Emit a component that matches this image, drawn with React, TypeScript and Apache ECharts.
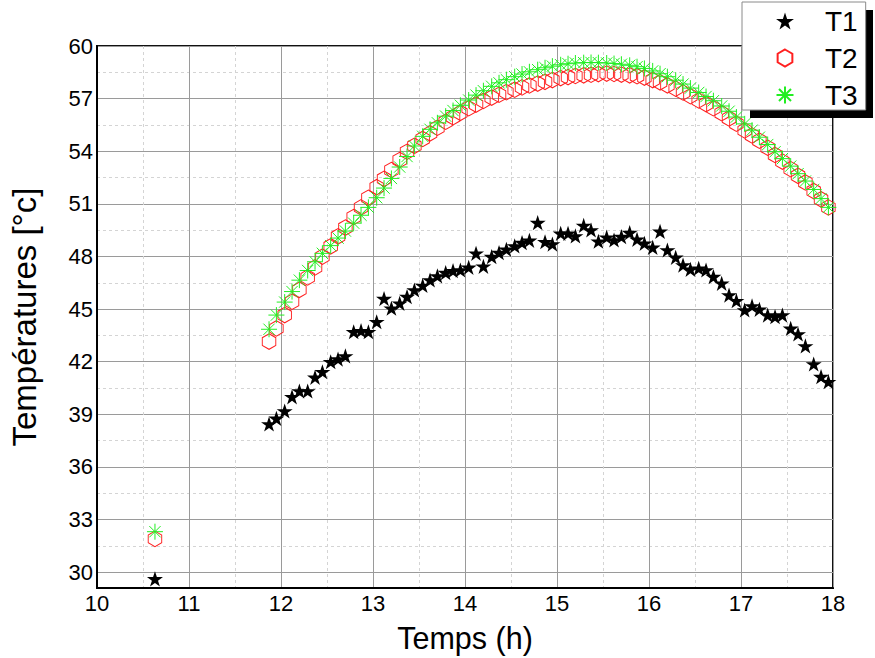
import React, { useEffect, useRef } from "react";
import * as echarts from "echarts";

// Time of day (h)
const times: number[] = [
  10.63,
  11.87, 11.95, 12.04, 12.12, 12.20, 12.29, 12.37, 12.45, 12.54, 12.62,
  12.70, 12.79, 12.87, 12.95, 13.04, 13.12, 13.20, 13.29, 13.37, 13.45,
  13.54, 13.62, 13.70, 13.79, 13.87, 13.95, 14.04, 14.12, 14.20, 14.29,
  14.37, 14.45, 14.54, 14.62, 14.70, 14.79, 14.87, 14.95, 15.04, 15.12,
  15.20, 15.29, 15.37, 15.45, 15.54, 15.62, 15.70, 15.79, 15.87, 15.95,
  16.04, 16.12, 16.20, 16.29, 16.37, 16.45, 16.54, 16.62, 16.70, 16.79,
  16.87, 16.95, 17.04, 17.12, 17.20, 17.29, 17.37, 17.45, 17.54, 17.62,
  17.70, 17.79, 17.87, 17.95, 18.04,
];

const t1: number[] = [
  29.62,
  38.45, 38.77, 39.19, 40.00, 40.33, 40.33, 41.11, 41.43, 42.00, 42.15,
  42.33, 43.71, 43.77, 43.71, 44.28, 45.60, 45.05, 45.33, 45.71, 46.09,
  46.35, 46.66, 46.89, 47.08, 47.19, 47.23, 47.38, 48.18, 47.44, 47.99,
  48.22, 48.41, 48.60, 48.79, 48.92, 49.93, 48.84, 48.71, 49.32, 49.32,
  49.17, 49.77, 49.51, 48.87, 49.10, 48.94, 49.13, 49.36, 48.98, 48.75,
  48.52, 49.43, 48.37, 47.95, 47.51, 47.27, 47.33, 47.23, 46.85, 46.47,
  45.80, 45.48, 44.95, 45.18, 44.99, 44.66, 44.57, 44.66, 43.90, 43.58,
  42.90, 41.87, 41.15, 40.86, 40.00,
];

const t2: number[] = [
  31.9,
  43.15, 43.90, 44.66, 45.42, 46.10, 46.81, 47.38, 47.99, 48.58, 49.15,
  49.65, 50.25, 50.80, 51.35, 51.95, 52.43, 52.93, 53.50, 53.97, 54.31,
  54.70, 55.02, 55.34, 55.68, 55.94, 56.19, 56.45, 56.66, 56.87, 57.06,
  57.22, 57.37, 57.51, 57.64, 57.75, 57.86, 57.96, 58.06, 58.17, 58.23,
  58.29, 58.33, 58.36, 58.40, 58.43, 58.41, 58.37, 58.33, 58.28, 58.20,
  58.06, 57.93, 57.76, 57.57, 57.35, 57.14, 56.90, 56.69, 56.45, 56.17,
  55.87, 55.57, 55.19, 54.90, 54.60, 54.20, 53.79, 53.41, 52.98, 52.60,
  52.22, 51.73, 51.26, 50.80, 50.30,
];

const t3: number[] = [
  32.31,
  43.85, 44.66, 45.40, 46.00, 46.65, 47.20, 47.70, 48.18, 48.62, 49.05,
  49.45, 49.90, 50.35, 50.80, 51.35, 51.90, 52.45, 53.10, 53.70, 54.30,
  54.85, 55.25, 55.62, 56.00, 56.32, 56.62, 56.92, 57.20, 57.45, 57.70,
  57.90, 58.08, 58.25, 58.40, 58.53, 58.65, 58.76, 58.85, 58.93, 58.99,
  59.03, 59.05, 59.06, 59.05, 59.03, 59.00, 58.96, 58.90, 58.82, 58.72,
  58.58, 58.42, 58.25, 58.05, 57.83, 57.60, 57.35, 57.12, 56.88, 56.58,
  56.28, 55.95, 55.56, 55.20, 54.80, 54.38, 53.97, 53.58, 53.15, 52.72,
  52.30, 51.82, 51.30, 50.80, 50.35,
];

const yTicks: number[] = [30, 33, 36, 39, 42, 45, 48, 51, 54, 57, 60];
const yMinorTicks: number[] = [31.5, 34.5, 37.5, 40.5, 43.5, 46.5, 49.5, 52.5, 55.5, 58.5];

const FONT = '"Liberation Sans", Arial, Helvetica, sans-serif';

const STAR =
  "path://M0,-10L2.245,-3.09L9.511,-3.09L3.633,1.18L5.878,8.09L0,3.82L-5.878,8.09L-3.633,1.18L-9.511,-3.09L-2.245,-3.09Z";
const HEX = "path://M0,-10L8.66,-5L8.66,5L0,10L-8.66,5L-8.66,-5Z";
const AST =
  "path://M0,-10L0,10M-10,0L10,0M-7.07,-7.07L7.07,7.07M-7.07,7.07L7.07,-7.07";

export default function App() {
  const ref = useRef<HTMLDivElement>(null);

  useEffect(() => {
    if (!ref.current) return;
    const chart = echarts.init(ref.current, undefined, { renderer: "svg" });
    const pairs = (ys: number[]) => times.map((t, i) => [t, ys[i]]);

    chart.setOption({
      animation: false,
      backgroundColor: "#fff",
      textStyle: { fontFamily: FONT },
      grid: {
        left: 93,
        top: 46,
        right: 42,
        bottom: 70,
        show: true,
        borderColor: "#111",
        borderWidth: 2,
        backgroundColor: "transparent",
      },
      graphic: [
        {
          type: "rect",
          z: 3,
          shape: { x: 750, y: 10, width: 123, height: 108 },
          style: { fill: "#000" },
        },
      ],
      legend: {
        orient: "vertical",
        left: 742,
        top: 2,
        z: 4,
        backgroundColor: "#fff",
        borderColor: "#8a8a8a",
        borderWidth: 1,
        padding: [5, 8, 1, 32],
        itemWidth: 70,
        itemHeight: 17,
        itemGap: 9,
        textStyle: { fontSize: 28, color: "#000", fontFamily: FONT },
        data: ["T1", "T2", "T3"],
      },
      xAxis: {
        type: "value",
        min: 10,
        max: 18,
        interval: 1,
        name: "Temps (h)",
        nameLocation: "middle",
        nameGap: 34,
        nameTextStyle: { fontSize: 30.5, color: "#000", fontFamily: FONT },
        axisLine: { show: true, onZero: false, lineStyle: { color: "#000", width: 2 } },
        axisTick: { show: false },
        axisLabel: { fontSize: 22, color: "#000", margin: 4, fontFamily: FONT },
        splitLine: { show: true, lineStyle: { color: "#9a9a9a", width: 1 } },
        minorTick: { show: false, splitNumber: 2 },
        minorSplitLine: { show: true, lineStyle: { color: "#d4d4d4", width: 1, type: [3, 3] } },
      },
      yAxis: [
        {
          type: "value",
          min: 29.1,
          max: 60,
          name: "Températures [°c]",
          nameLocation: "middle",
          nameGap: 56,
          nameTextStyle: { fontSize: 33, color: "#000", fontFamily: FONT },
          axisLine: { show: true, onZero: false, lineStyle: { color: "#000", width: 2 } },
          axisTick: { show: false, customValues: yTicks },
          axisLabel: {
            customValues: yTicks,
            fontSize: 22,
            color: "#000",
            margin: 4,
            fontFamily: FONT,
          },
          splitLine: { show: true, lineStyle: { color: "#9a9a9a", width: 1 } },
        },
        {
          type: "value",
          min: 29.1,
          max: 60,
          position: "left",
          axisLine: { show: false },
          axisTick: { show: false, customValues: yMinorTicks },
          axisLabel: { show: false, customValues: yMinorTicks },
          splitLine: { show: true, lineStyle: { color: "#d4d4d4", width: 1, type: [3, 3] } },
        },
      ],
      series: [
        {
          name: "T1",
          type: "scatter",
          data: pairs(t1),
          symbol: STAR,
          symbolSize: [16, 15.2],
          itemStyle: { color: "#000", opacity: 1 },
        },
        {
          name: "T2",
          type: "scatter",
          data: pairs(t2),
          symbol: HEX,
          symbolSize: [13.5, 15.5],
          itemStyle: { color: "none", borderColor: "#ff2020", borderWidth: 1, opacity: 1 },
        },
        {
          name: "T3",
          type: "scatter",
          data: pairs(t3),
          symbol: AST,
          symbolSize: 16,
          itemStyle: { color: "none", borderColor: "#22ee22", borderWidth: 1, opacity: 1 },
        },
      ],
    });

    return () => chart.dispose();
  }, []);

  return <div ref={ref} style={{ width: 875, height: 658, position: "absolute", left: 0, top: 0 }} />;
}
